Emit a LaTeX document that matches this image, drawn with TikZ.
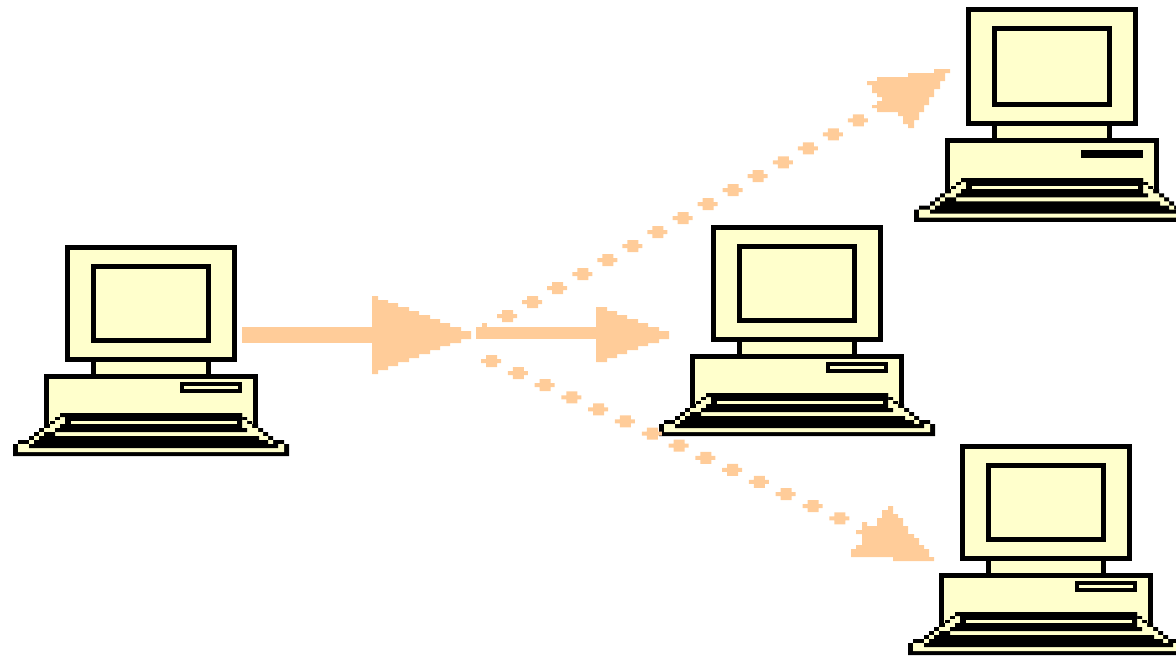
\documentclass[tikz,border=0pt]{standalone}
\usepackage{tikz}
\usetikzlibrary{calc}

\definecolor{cream}{HTML}{FFFFCC}
\definecolor{peach}{HTML}{FFCC99}

\tikzset{
  pcpart/.style={draw=black, fill=cream, line width=5pt, line join=miter},
  slotopen/.style={draw=black, fill=cream, line width=4pt},
  slotfull/.style={draw=black, fill=black, line width=4pt},
  pics/computer/.style 2 args={code={
    % monitor, neck and case
    \draw[pcpart] (28.5,110) rectangle (143.5,135);
    \draw[pcpart] (2.5,2.5) rectangle (169.5,114.5);
    \draw[pcpart] (28.5,21.5) rectangle (143.5,95.5);
    \draw[pcpart] (-18.5,131.5) rectangle (190.5,186);
    \draw[#1] (117,#2) rectangle (175,146);
    % keyboard
    \fill[black] plot coordinates {(-52,211) (-52,199) (-47,199) (-47,195) (-36,195) (-36,191) (-31,191) (-31,187) (-26,187) (-26,183) (-21,183) (-21,179) (-15,179) (-15,176) (-10,176) (-10,172) (-5,172) (-5,168) (177,168) (177,172) (182,172) (182,176) (187,176) (187,179) (193,179) (193,183) (198,183) (198,187) (203,187) (203,191) (208,191) (208,195) (219,195) (219,199) (224,199) (224,211)};
    \fill[cream] plot coordinates {(-47,207) (-47,199) (-36,199) (-36,195) (-31,195) (-31,191) (-26,191) (-26,187) (-21,187) (-21,183) (-15,183) (-15,179) (-10,179) (-10,175) (-5,175) (-5,172) (177,172) (177,175) (182,175) (182,179) (187,179) (187,183) (193,183) (193,187) (198,187) (198,191) (203,191) (203,195) (208,195) (208,199) (219,199) (219,207)};
    \fill[black] plot coordinates {(-5,168) (177,168) (177,172) (177,179) (0,179) (0,172) (-5,172)};
    \fill[black] plot coordinates {(-5,179) (177,179) (177,183) (182,183) (182,187) (-10,187) (-10,183) (-5,183)};
    \fill[black] plot coordinates {(-36,203) (-36,199) (-31,199) (-31,195) (-26,195) (-26,191) (-21,191) (-21,187) (-10,187) (-10,191) (194,191) (194,195) (203,195) (203,199) (213,199) (213,203)};
    \fill[cream] (6,176) rectangle (172,179);
  }},
  flowline/.style={draw=peach, line width=#1}
}
% one blob of a dotted arrow
\newcommand{\flowblob}[1]{\fill[peach] #1 +(-10,-2) rectangle +(10,2) +(-5,-6) rectangle +(6,6);}

\begin{document}
\begin{tikzpicture}[x=1pt, y=-1pt]

\path[use as bounding box, clip] (0,0) rectangle (1176,656);

% computers
\pic at (65,245) {computer={slotopen}{139}};
\pic at (711,225) {computer={slotopen}{139}};
\pic[yscale=1.018] at (966,7) {computer={slotfull}{142}};
\pic at (960,444) {computer={slotopen}{139}};

% arrow ends
\coordinate (sendout) at (242,335);
\coordinate (sendend) at (372,335);
\coordinate (midstart) at (476,333);
\coordinate (midend) at (596,333);
\coordinate (upstart) at (482,330);
\coordinate (upend) at (950,69);
\coordinate (downstart) at (491,361);
\coordinate (downend) at (934,561);

% straight arrows
\draw[flowline=16pt] (sendout) -- (sendend);
\fill[peach] plot coordinates {(372,296) (378,296) (378,300) (388,300) (388,303) (398,303) (398,307) (409,307) (409,311) (419,311) (419,315) (430,315) (430,319) (440,319) (440,323) (450,323) (450,327) (461,327) (461,331) (471,331) (471,339) (461,339) (461,343) (450,343) (450,346) (440,346) (440,350) (430,350) (430,354) (419,354) (419,358) (409,358) (409,362) (398,362) (398,366) (388,366) (388,370) (378,370) (378,374) (372,374)};
\draw[flowline=12pt] (midstart) -- (midend);
\fill[peach] (482,323) rectangle (487,327);
\fill[peach] plot coordinates {(596,307) (607,307) (607,311) (617,311) (617,315) (627,315) (627,319) (638,319) (638,323) (648,323) (648,327) (659,327) (659,331) (669,331) (669,339) (659,339) (659,343) (648,343) (648,346) (638,346) (638,350) (627,350) (627,354) (617,354) (617,358) (607,358) (607,362) (596,362)};

% dotted arrows
\foreach \k in {1,...,15} {
  \flowblob{($(upstart)!\k*28.7pt!(upend)$)}
}
\fill[peach] plot coordinates {(934,69) (950,69) (950,73) (945,73) (945,81) (940,81) (940,89) (934,89) (934,97) (929,97) (929,105) (924,105) (924,112) (919,112) (919,120) (914,120) (914,128) (908,128) (908,124) (903,124) (903,116) (898,116) (898,112) (877,112) (877,108) (872,108) (872,105) (877,105) (877,101) (882,101) (882,97) (877,97) (877,93) (872,93) (872,85) (867,85) (867,81) (877,81) (877,77) (908,77) (908,73) (934,73)};
\foreach \k in {0,...,13} {
  \flowblob{($(downstart)!\k*29.4pt!(downend)$)}
}
\fill[peach] plot coordinates {(888,506) (893,506) (893,514) (898,514) (898,518) (903,518) (903,526) (908,526) (908,534) (914,534) (914,538) (919,538) (919,545) (924,545) (924,549) (929,549) (929,557) (934,557) (934,561) (893,561) (893,557) (851,557) (851,549) (856,549) (856,545) (862,545) (862,534) (856,534) (856,530) (862,530) (862,522) (867,522) (867,526) (877,526) (877,518) (882,518) (882,510) (888,510)};

\end{tikzpicture}
\end{document}
